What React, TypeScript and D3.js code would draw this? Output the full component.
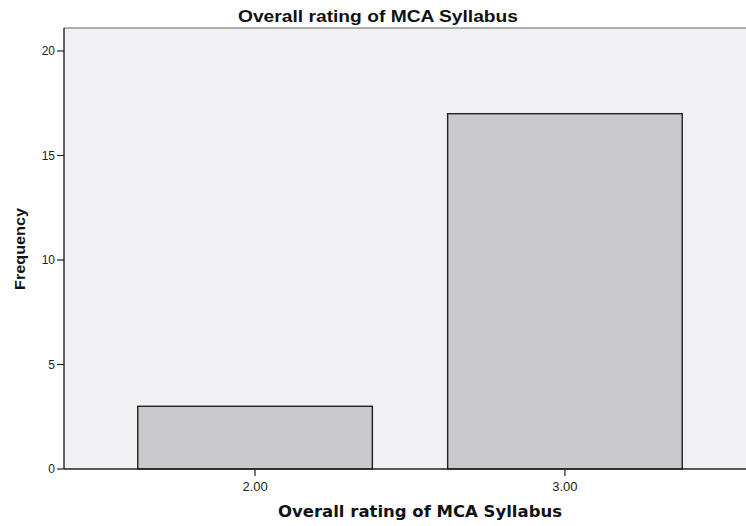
import React from "react";
import * as d3 from "d3";

const categories = ["2.00", "3.00"];
const frequencies = [3, 17];
const yTicks = [0, 5, 10, 15, 20];
const title = "Overall rating of MCA Syllabus";
const xLabel = "Overall rating of MCA Syllabus";
const yLabel = "Frequency";

const W = 746;
const H = 526;
const plot = { left: 64, top: 28, right: 756, bottom: 469 };

export default function App() {
  const x = d3
    .scaleBand<string>()
    .domain(categories)
    .range([plot.left, plot.right])
    .paddingInner(0.243)
    .paddingOuter(0.238);
  const y = d3.scaleLinear().domain([0, 21.1]).range([plot.bottom, plot.top]);

  return (
    <svg
      width={W}
      height={H}
      style={{ position: "absolute", left: 0, top: 0, display: "block" }}
      fontFamily="Arial, 'Liberation Sans', sans-serif"
    >
      <rect x={0} y={0} width={W} height={H} fill="#ffffff" />
      <rect
        x={plot.left}
        y={plot.top}
        width={plot.right - plot.left}
        height={plot.bottom - plot.top}
        fill="#f1f1f3"
      />
      <line x1={plot.left} x2={plot.right} y1={plot.top} y2={plot.top} stroke="#666" strokeWidth={1.2} />
      {categories.map((c, i) => (
        <rect
          key={c}
          x={x(c)}
          y={y(frequencies[i])}
          width={x.bandwidth()}
          height={y(0) - y(frequencies[i])}
          fill="#c9c9ce"
          stroke="#222"
          strokeWidth={1.4}
        />
      ))}
      {/* axes */}
      <line x1={plot.left} x2={plot.left} y1={plot.top} y2={plot.bottom} stroke="#222" strokeWidth={1.4} />
      <line x1={plot.left} x2={plot.right} y1={plot.bottom} y2={plot.bottom} stroke="#222" strokeWidth={1.4} />
      {yTicks.map((t) => (
        <g key={t}>
          <line x1={plot.left - 7} x2={plot.left} y1={y(t)} y2={y(t)} stroke="#222" strokeWidth={1.2} />
          <text x={plot.left - 9} y={y(t)} dy="0.36em" textAnchor="end" fontSize={12} fill="#222">
            {t}
          </text>
        </g>
      ))}
      {categories.map((c) => {
        const cx = (x(c) as number) + x.bandwidth() / 2;
        return (
          <g key={c}>
            <line x1={cx} x2={cx} y1={plot.bottom} y2={plot.bottom + 7} stroke="#222" strokeWidth={1.2} />
            <text x={cx} y={plot.bottom + 22} textAnchor="middle" fontSize={13} fill="#222">
              {c}
            </text>
          </g>
        );
      })}
      <text
        x={378}
        y={22}
        textAnchor="middle"
        fontSize={16}
        fontWeight="bold"
        fill="#111"
        textLength={280}
        lengthAdjust="spacingAndGlyphs"
      >
        {title}
      </text>
      <text
        x={420}
        y={517}
        textAnchor="middle"
        fontSize={15}
        fontWeight="bold"
        fill="#111"
        fontFamily="'DejaVu Sans', Verdana, sans-serif"
        textLength={284}
        lengthAdjust="spacingAndGlyphs"
      >
        {xLabel}
      </text>
      <text
        transform={`translate(25, 249) rotate(-90)`}
        textAnchor="middle"
        fontSize={14}
        fontWeight="bold"
        fill="#111"
        textLength={82}
        lengthAdjust="spacingAndGlyphs"
      >
        {yLabel}
      </text>
    </svg>
  );
}
